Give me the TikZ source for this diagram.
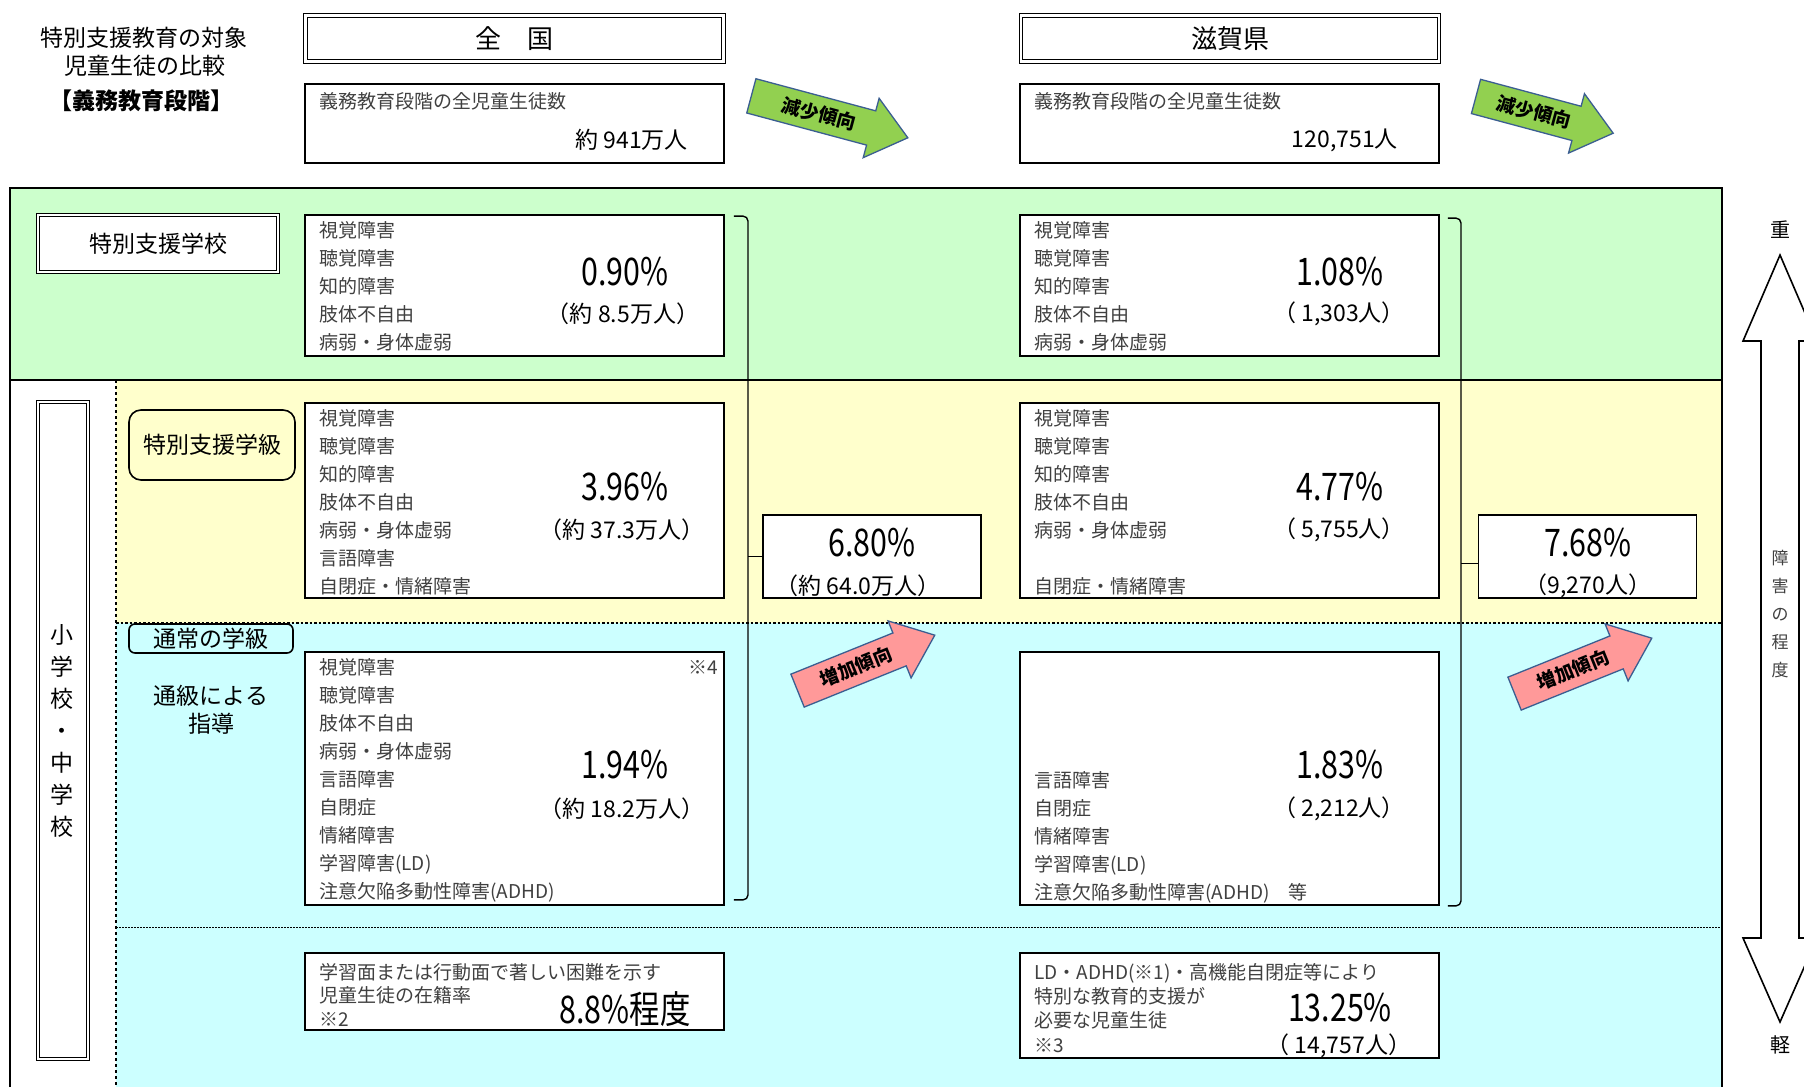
\documentclass[tikz,border=0pt]{standalone}
\usepackage{fontspec}
\usepackage{graphicx}
\setmainfont{Noto Sans CJK JP}
\newfontfamily\numfont[FakeStretch=0.8]{Noto Sans CJK JP}
\usetikzlibrary{shapes.arrows}
\definecolor{bggreen}{HTML}{CCFFCC}
\definecolor{bgyellow}{HTML}{FFFFCC}
\definecolor{bgcyan}{HTML}{CCFFFF}
\definecolor{arrgreen}{HTML}{92D050}
\definecolor{arrpink}{HTML}{FF9999}
\definecolor{arrline}{HTML}{3B5E91}
\definecolor{lsttext}{HTML}{404040}
\begin{document}
\begin{tikzpicture}[x=1pt,y=-1pt,
  box/.style={draw=black, line width=1.8pt, fill=white, inner sep=0pt},
  dbox/.style={draw=black, double=white, double distance=2.2pt, line width=1.1pt, fill=white, inner sep=0pt, font=\fontsize{23}{23}\selectfont},
  rbox/.style={draw=black, line width=1.6pt, inner sep=0pt, font=\fontsize{23}{23}\selectfont},
  lst/.style={anchor=north west, align=left, inner sep=0pt, text=lsttext, font=\fontsize{19}{28}\selectfont},
  big/.style={inner sep=0pt, font=\numfont\fontsize{38}{38}\selectfont},
  sub/.style={inner sep=0pt, font=\fontsize{23}{23}\selectfont},
  lbl/.style={inner sep=0pt, font=\fontsize{23}{23}\selectfont},
  brk/.style={draw=black, line width=1.4pt, rounded corners=5pt},
  trend/.style={single arrow, draw=arrline, line width=1.3pt, inner sep=8pt,
     single arrow head extend=13pt, single arrow tip angle=78,
     font=\bfseries\fontsize{19}{19}\selectfont},
  frame/.style={draw=black, line width=1.5pt}
]
\useasboundingbox (0,0) rectangle (1804,1087);
\fill[white] (0,0) rectangle (1804,1087);

% bands
\fill[bggreen] (10,188) rectangle (1722,380);
\fill[bgyellow] (116,380) rectangle (1722,623);
\fill[bgcyan] (116,623) rectangle (1722,1087);
\draw[frame] (10,1087) -- (10,188) -- (1722,188) -- (1722,1087);
\draw[frame] (10,380) -- (1722,380);
\draw[line width=1.3pt, dash pattern=on 3pt off 3pt] (116,380) -- (116,1087);
\draw[line width=1.3pt, dash pattern=on 2.5pt off 2pt] (116,623) -- (1722,623);
\draw[line width=1pt, dash pattern=on 1.5pt off 1.5pt] (116,927) -- (1722,927);

% title
\node[lbl] (t1) at (144,38) {特別支援教育の対象};
\node[lbl] (t2) at (145,66) {児童生徒の比較};
\node[lbl, font=\bfseries\fontsize{23}{23}\selectfont] (t3) at (141,101) {【義務教育段階】};

% header boxes
\node[dbox, minimum width=418pt, minimum height=46pt, font=\fontsize{26}{26}\selectfont] (hzen) at (514.5,38.5) {全　国};
\node[dbox, minimum width=418pt, minimum height=46pt, font=\fontsize{26}{26}\selectfont] (hshiga) at (1230,38.5) {滋賀県};

% total boxes
\node[box, minimum width=419pt, minimum height=79pt] (tot1) at (514.5,123.5) {};
\node[box, minimum width=419pt, minimum height=79pt] (tot2) at (1229.5,123.5) {};
\node[lst, anchor=west] (tot1l) at (319,101) {義務教育段階の全児童生徒数};
\node[lst, anchor=west] (tot2l) at (1034,101) {義務教育段階の全児童生徒数};
\node[sub, anchor=east] (tot1v) at (688,140) {約 941万人};
\node[sub, anchor=east] (tot2v) at (1398,140) {120,751人};

% trend arrows (decrease)
\node[trend, fill=arrgreen, minimum height=162pt, rotate=-15] (dec1) at (819,114) {減少傾向};
\node[trend, fill=arrgreen, minimum height=142pt, rotate=-15] (dec2) at (1534,112) {減少傾向};

% green row
\node[dbox, minimum width=240pt, minimum height=57pt] (sch) at (158,243.5) {特別支援学校};
\node[box, minimum width=419pt, minimum height=141pt] (zb1) at (514.5,285.5) {};
\node[lst] (zb1l) at (319,221) {視覚障害\\聴覚障害\\知的障害\\肢体不自由\\病弱・身体虚弱};
\node[big] (zb1n) at (625,272) {0.90\%};
\node[sub] (zb1p) at (623,314) {（約 8.5万人）};
\node[box, minimum width=419pt, minimum height=141pt] (sb1) at (1229.5,285.5) {};
\node[lst] (sb1l) at (1034,221) {視覚障害\\聴覚障害\\知的障害\\肢体不自由\\病弱・身体虚弱};
\node[big] (sb1n) at (1340,272) {1.08\%};
\node[sub] (sb1p) at (1339,314) {（ 1,303人）};

% yellow row
\node[rbox, fill=bgyellow, rounded corners=12pt, minimum width=166pt, minimum height=70pt] (cls) at (212,445) {特別支援学級};
\node[box, minimum width=419pt, minimum height=195pt] (zb2) at (514.5,500.5) {};
\node[lst] (zb2l) at (319,409) {視覚障害\\聴覚障害\\知的障害\\肢体不自由\\病弱・身体虚弱\\言語障害\\自閉症・情緒障害};
\node[big] (zb2n) at (625,487) {3.96\%};
\node[sub] (zb2p) at (622,530) {（約 37.3万人）};
\node[box, minimum width=419pt, minimum height=195pt] (sb2) at (1229.5,500.5) {};
\node[lst] (sb2l) at (1034,409) {視覚障害\\聴覚障害\\知的障害\\肢体不自由\\病弱・身体虚弱\\\mbox{}\\自閉症・情緒障害};
\node[big] (sb2n) at (1340,487) {4.77\%};
\node[sub] (sb2p) at (1339,530) {（ 5,755人）};

\node[box, minimum width=218pt, minimum height=83pt] (tz) at (872,556.5) {};
\node[big] (tzn) at (872,543) {6.80\%};
\node[sub] (tzp) at (858,586) {（約 64.0万人）};
\node[box, minimum width=218pt, minimum height=83pt] (ts) at (1587.5,556.5) {};
\node[big] (tsn) at (1588,543) {7.68\%};
\node[sub] (tsp) at (1588,586) {（9,270人）};

% cyan row
\node[rbox, fill=bgcyan, rounded corners=6pt, minimum width=164pt, minimum height=29pt] (reg) at (211,638.5) {通常の学級};
\node[lbl, align=center, font=\fontsize{23}{28}\selectfont] (tsu) at (211,710) {通級による\\指導};
\node[box, minimum width=419pt, minimum height=253pt] (zb3) at (514.5,778.5) {};
\node[lst] (zb3l) at (319,658) {視覚障害\\聴覚障害\\肢体不自由\\病弱・身体虚弱\\言語障害\\自閉症\\情緒障害\\学習障害(LD)\\注意欠陥多動性障害(ADHD)};
\node[lst, anchor=east] (zb3m) at (718,667) {※4};
\node[big] (zb3n) at (625,765) {1.94\%};
\node[sub] (zb3p) at (622,809) {（約 18.2万人）};
\node[box, minimum width=419pt, minimum height=253pt] (sb3) at (1229.5,778.5) {};
\node[lst] (sb3l) at (1034,771) {言語障害\\自閉症\\情緒障害\\学習障害(LD)\\注意欠陥多動性障害(ADHD)　等};
\node[big] (sb3n) at (1340,765) {1.83\%};
\node[sub] (sb3p) at (1339,809) {（ 2,212人）};

% increase arrows
\node[trend, fill=arrpink, minimum height=148pt, rotate=22] (inc1) at (856,667) {増加傾向};
\node[trend, fill=arrpink, minimum height=148pt, rotate=22] (inc2) at (1573,670) {増加傾向};

% bottom row
\node[box, minimum width=419pt, minimum height=77pt] (zb4) at (514.5,991.5) {};
\node[lst, font=\fontsize{19}{23.5}\selectfont] (zb4l) at (319,963) {学習面または行動面で著しい困難を示す\\児童生徒の在籍率\\※2};
\node[big] (zb4n) at (625,1009) {8.8\%程度};
\node[box, minimum width=419pt, minimum height=105pt] (sb4) at (1229.5,1005.5) {};
\node[lst, font=\fontsize{19}{24.3}\selectfont] (sb4l) at (1034,963) {LD・ADHD(※1)・高機能自閉症等により\\特別な教育的支援が\\必要な児童生徒\\※3};
\node[big] (sb4n) at (1340,1008) {13.25\%};
\node[sub] (sb4p) at (1339,1046) {（ 14,757人）};

% left vertical label
\node[dbox, minimum width=50pt, minimum height=657pt] (elem) at (63,730.5) {};
\node[lbl, align=center, font=\fontsize{23}{32}\selectfont] (elemt) at (62,731) {小\\学\\校\\・\\中\\学\\校};

% brackets
\coordinate (bx1) at (748,0);
\coordinate (bx2) at (1461,0);
\draw[brk] ([xshift=9pt,yshift=-2pt]zb1.north east) -- ([yshift=-2pt]zb1.north east -| bx1) -- ([yshift=6pt]zb3.south east -| bx1) -- ([xshift=9pt,yshift=6pt]zb3.south east);
\draw[brk] ([xshift=8pt,yshift=-4pt]sb1.north east) -- ([yshift=-4pt]sb1.north east -| bx2) -- (sb3.south east -| bx2) -- ([xshift=8pt]sb3.south east);
\draw[line width=1.4pt] (tz.west) -- (tz.west -| bx1);
\draw[line width=1.4pt] ([yshift=-7pt]ts.west) -- ([yshift=-7pt]ts.west -| bx2);

% severity arrow
\draw[line width=1.6pt, fill=white] (1780,255) -- (1743,341) -- (1761,341) -- (1761,938) -- (1743,938) -- (1780,1022) -- (1817,938) -- (1799,938) -- (1799,341) -- (1817,341) -- cycle;
\node[lbl, font=\fontsize{20}{20}\selectfont] (heavy) at (1780,230) {重};
\node[lbl, font=\fontsize{20}{20}\selectfont] (light) at (1780,1045) {軽};
\node[lbl, align=center, text=lsttext, font=\fontsize{17}{28}\selectfont] (sev) at (1780,614) {障\\害\\の\\程\\度};
\end{tikzpicture}
\end{document}
